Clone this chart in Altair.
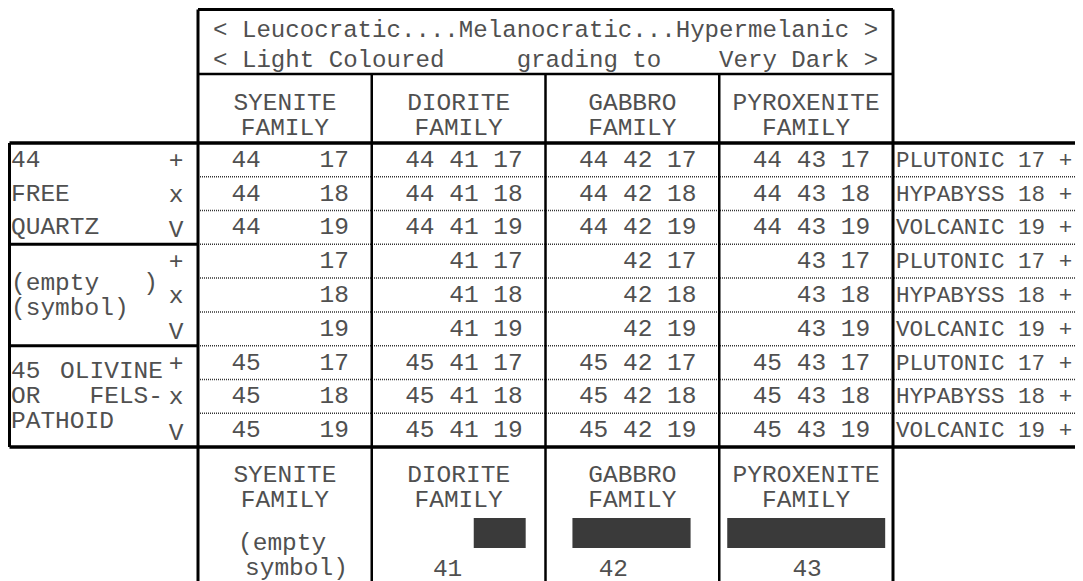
import altair as alt
import pandas as pd

NB = "\u00a0"

# ---------------- data ----------------
header_lines = [
    "< Leucocratic....Melanocratic...Hypermelanic >",
    "< Light Coloured     grading to    Very Dark >",
]
families = ["SYENITE", "DIORITE", "GABBRO", "PYROXENITE"]
family_word = "FAMILY"
family_codes = ["", "41", "42", "43"]
group_codes = ["44", "", "45"]
group_lines = [
    [("44", ""), ("FREE", ""), ("QUARTZ", "")],
    [("(empty   )", ""), ("(symbol)", "")],
    [("45", "OLIVINE"), ("OR", "FELS-"), ("PATHOID", "")],
]
setting_types = ["PLUTONIC", "HYPABYSS", "VOLCANIC"]
setting_codes = ["17", "18", "19"]
setting_symbols = ["+", "x", "V"]
empty_note = ["(empty", "symbol)"]
# darkness shading of each family (fraction of the column covered)
shade_from = [None, 0.587, 0.155, 0.046]
shade_to = [None, 0.886, 0.835, 0.955]

# ---------------- layout ----------------
W, H = 1067, 600
X_LEFT, X_GRID, COL_W = 9.5, 198, 173.75
X_RIGHT = X_GRID + 4 * COL_W
X_END = 1083
Y_TOP, Y_HEAD, Y_DATA = 9.5, 74, 143
ROW_H = (447 - 143) / 9
Y_BOT = Y_DATA + 9 * ROW_H
Y_END = 8 + H
line_gap = [ROW_H, 25, 25]
number_dx = [0, -11, -19, 1]

def sp(s):
    return s.replace(" ", NB)

def col_left(c):
    return X_GRID + c * COL_W

def row_mid(r):
    return Y_DATA + (r + 0.5) * ROW_H

# rules
solid = []
def rule(x, y, x2, y2, w):
    solid.append(dict(x=x, y=y, x2=x2, y2=y2, w=w))

rule(X_GRID, Y_TOP, X_RIGHT, Y_TOP, 3)
rule(X_GRID, Y_HEAD, X_RIGHT, Y_HEAD, 2.5)
rule(X_LEFT, Y_DATA, X_END, Y_DATA, 3.5)
rule(X_LEFT, Y_BOT, X_END, Y_BOT, 3.5)
for g in (1, 2):
    yy = Y_DATA + 3 * g * ROW_H
    rule(X_LEFT, yy, X_GRID, yy, 3)
rule(X_LEFT, Y_DATA, X_LEFT, Y_BOT, 3)
rule(X_GRID, Y_TOP, X_GRID, Y_END, 3)
rule(X_RIGHT, Y_TOP, X_RIGHT, Y_END, 3)
for c in (1, 2, 3):
    rule(col_left(c), Y_HEAD, col_left(c), Y_END, 2.5)
solid_df = pd.DataFrame(solid)

dotted_df = pd.DataFrame(
    [dict(x=X_GRID, x2=X_END, y=Y_DATA + k * ROW_H, y2=Y_DATA + k * ROW_H) for k in range(1, 9)]
)

# texts
left_t, center_t, right_t, head_t, side_t = [], [], [], [], []
for i, line in enumerate(header_lines):
    head_t.append(dict(x=213, y=30 + 30 * i, t=sp(line)))
for c, fam in enumerate(families):
    cx = col_left(c) + COL_W / 2
    for yy in (103, 475):
        center_t.append(dict(x=cx, y=yy, t=fam))
        center_t.append(dict(x=cx, y=yy + 25, t=family_word))

for g in range(3):
    gmid = row_mid(3 * g + 1)
    lines = group_lines[g]
    n = len(lines)
    for j, (a, b) in enumerate(lines):
        yy = gmid + (j - (n - 1) / 2) * line_gap[g]
        left_t.append(dict(x=11, y=yy, t=sp(a)))
        if b:
            right_t.append(dict(x=163, y=yy, t=b))
    for s in range(3):
        r = 3 * g + s
        ym = row_mid(r)
        center_t.append(dict(x=176, y=ym + (3 if s == 2 else 1), t=setting_symbols[s]))
        for c in range(4):
            txt = f"{group_codes[g]:>2} {family_codes[c]:>2} {setting_codes[s]}"
            right_t.append(dict(x=col_left(c) + 151, y=ym, t=sp(txt.strip())))
        side_t.append(dict(x=896, y=ym, t=sp(f"{setting_types[s]} {setting_codes[s]} +")))

left_t.append(dict(x=238, y=543, t=empty_note[0]))
left_t.append(dict(x=245, y=568, t=empty_note[1]))
rects = []
for c in range(1, 4):
    x0 = col_left(c)
    rects.append(dict(x=x0 + shade_from[c] * COL_W, x2=x0 + shade_to[c] * COL_W, y=518, y2=548))
    center_t.append(dict(x=x0 + COL_W / 2 + number_dx[c], y=569, t=family_codes[c]))
rect_df = pd.DataFrame(rects)

# ---------------- chart ----------------
xs = alt.Scale(domain=[8, 8 + W], range=[0, W])
ys = alt.Scale(domain=[8, 8 + H], range=[0, H])
X = lambda f: alt.X(f"{f}:Q", scale=xs, axis=None)
Y = lambda f: alt.Y(f"{f}:Q", scale=ys, axis=None)

FONT = "Courier New, Courier, Nimbus Mono PS, FreeMono, Liberation Mono, monospace"
TXT_COL = "#505050"

solid_layer = alt.Chart(solid_df).mark_rule(color="#000000").encode(
    x=X("x"), y=Y("y"), x2="x2:Q", y2="y2:Q",
    strokeWidth=alt.StrokeWidth("w:Q", scale=None, legend=None),
)
dotted_layer = alt.Chart(dotted_df).mark_rule(
    color="#333333", strokeWidth=1.5, strokeDash=[1, 1]
).encode(x=X("x"), y=Y("y"), x2="x2:Q", y2="y2:Q")
rect_layer = alt.Chart(rect_df).mark_rect(color="#3a3a3a").encode(
    x=X("x"), y=Y("y"), x2="x2:Q", y2="y2:Q"
)

def text_layer(rows, align, size=24.5):
    return alt.Chart(pd.DataFrame(rows)).mark_text(
        align=align, baseline="middle", font=FONT, fontSize=size, color=TXT_COL
    ).encode(x=X("x"), y=Y("y"), text="t:N")

chart = alt.layer(
    dotted_layer,
    rect_layer,
    solid_layer,
    text_layer(head_t, "left", 24.1),
    text_layer(left_t, "left"),
    text_layer(center_t, "center"),
    text_layer(right_t, "right"),
    text_layer(side_t, "left", 22.6),
).properties(
    width=W, height=H, autosize=alt.AutoSizeParams(type="none"), padding=0
).configure_view(stroke=None)

chart.save("out.html", embed_options={"renderer": "svg", "actions": False})
